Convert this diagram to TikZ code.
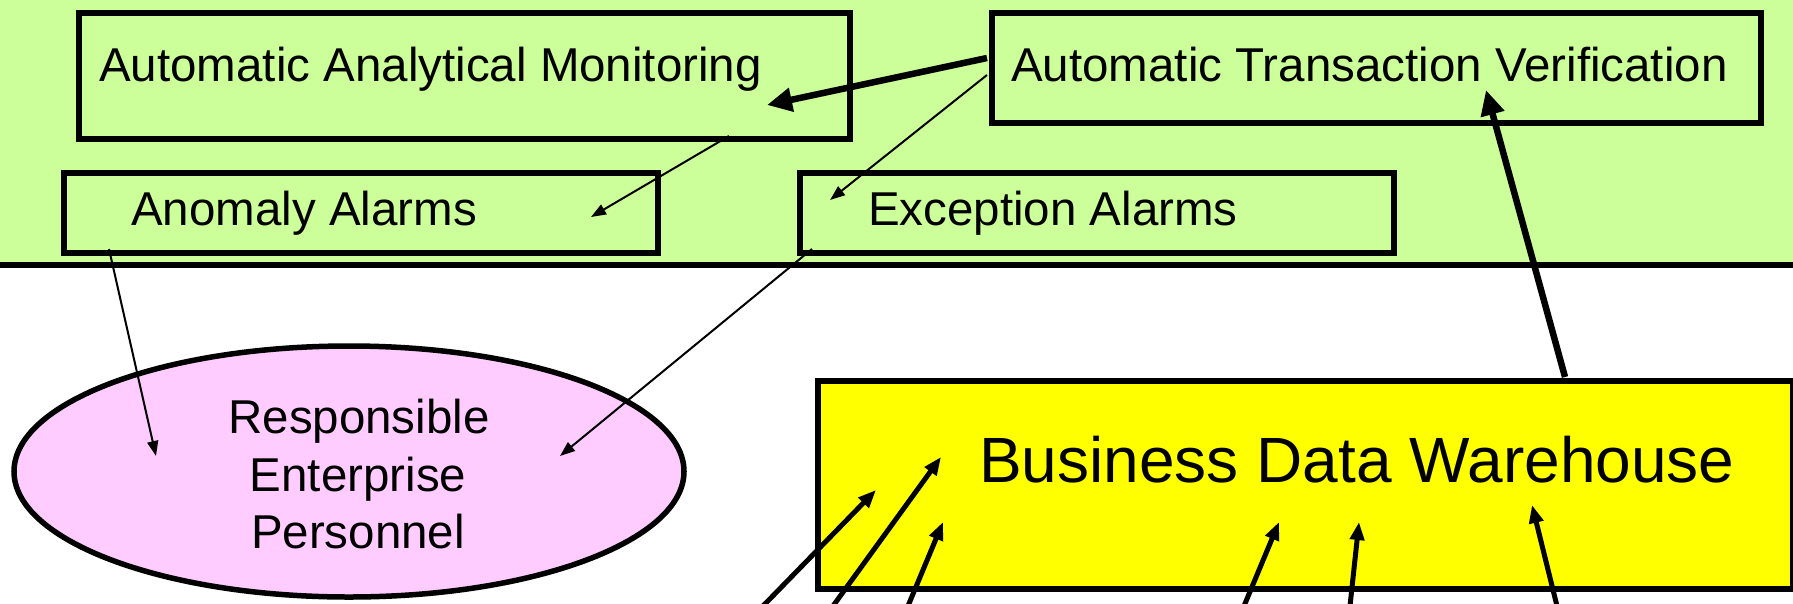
\documentclass[tikz,border=0pt]{standalone}
\usepackage{fontspec}
\setmainfont{Liberation Sans}
\usetikzlibrary{arrows.meta,shapes.geometric}
\definecolor{lgreen}{HTML}{CCFF99}
\definecolor{lpink}{HTML}{FFCCFF}
\definecolor{yell}{HTML}{FFFF00}
\tikzset{
  box/.style={draw, line width=6pt, fill=lgreen, rectangle, inner sep=0pt, anchor=north west},
  lbl/.style={font=\fontsize{47.5}{57.5}\selectfont, inner sep=0pt, anchor=base west},
  clbl/.style={font=\fontsize{47.5}{57.5}\selectfont, inner sep=0pt, anchor=base},
  thinarrow/.style={line width=2pt, -{Triangle[length=15pt,width=11pt]}},
  thickarrow/.style={line width=6.5pt, -{Triangle[length=25pt,width=23pt]}},
  midarrow/.style={line width=5pt, -{Triangle[length=18pt,width=14pt]}}
}
\begin{document}
\begin{tikzpicture}[x=1pt,y=-1pt]
\useasboundingbox (0,0) rectangle (1793,603);
\clip (0,0) rectangle (1793,603);
% background band
\fill[lgreen] (0,0) rectangle (1793,265);
\draw[line width=6.5pt] (0,265) -- (1793,265);
% boxes
\node[box, minimum width=771pt, minimum height=126pt] (aam) at (76,10) {};
\node[box, minimum width=769pt, minimum height=110pt] (atv) at (989,10) {};
\node[box, minimum width=594pt, minimum height=80pt] (anom) at (61,169.5) {};
\node[box, minimum width=594pt, minimum height=80pt] (exc) at (797,169.5) {};
\node[draw, ellipse, line width=5.5pt, fill=lpink, minimum width=670pt, minimum height=251pt, inner sep=0pt] (rep) at (349,471.5) {};
\node[box, fill=yell, minimum width=975pt, minimum height=208pt] (bdw) at (814.5,377.5) {};
% labels
\node[lbl] (aamt) at (99,81) {Automatic Analytical Monitoring};
\node[lbl] (atvt) at (1011,81) {Automatic Transaction Verification};
\node[lbl] (anomt) at (131,225) {Anomaly Alarms};
\node[lbl] (exct) at (868,225) {Exception Alarms};
\node[clbl] (rep1) at (359,433) {Responsible};
\node[clbl] (rep2) at (358,491) {Enterprise};
\node[clbl] (rep3) at (358,548) {Personnel};
\node[font=\fontsize{64}{76}\selectfont, inner sep=0pt, anchor=base west] (bdwt) at (979,482) {Business Data Warehouse};
% connector end points
\coordinate (aamOut) at (729,136);
\coordinate (anomIn) at (591,217);
\coordinate (atvOutA) at (987,58);
\coordinate (aamIn) at (767,105);
\coordinate (atvOutB) at (987,75);
\coordinate (excIn) at (830,200);
\coordinate (anomOut) at (109,249);
\coordinate (repInA) at (156,456);
\coordinate (excOut) at (812,249);
\coordinate (repInB) at (560,456);
\coordinate (bdwOut) at (1565,377);
\coordinate (atvIn) at (1486,90);
\coordinate (s1) at (763,606);
\coordinate (s2) at (833,606);
\coordinate (s3) at (908,606);
\coordinate (s4) at (1244,606);
\coordinate (s5) at (1350,606);
\coordinate (s6) at (1557,606);
\coordinate (t1) at (876,490);
\coordinate (t2) at (941,457);
\coordinate (t3) at (943,522);
\coordinate (t4) at (1279,522);
\coordinate (t5) at (1359,522);
\coordinate (t6) at (1532,505);
% connectors
\draw[thinarrow] (aamOut) -- (anomIn);
\draw[thinarrow] (atvOutB) -- (excIn);
\draw[thinarrow] (anomOut) -- (repInA);
\draw[thinarrow] (excOut) -- (repInB);
\draw[thickarrow] (atvOutA) -- (aamIn);
\draw[thickarrow] (bdwOut) -- (atvIn);
\draw[midarrow] (s1) -- (t1);
\draw[midarrow] (s2) -- (t2);
\draw[midarrow] (s3) -- (t3);
\draw[midarrow] (s4) -- (t4);
\draw[midarrow] (s5) -- (t5);
\draw[midarrow] (s6) -- (t6);
\end{tikzpicture}
\end{document}
